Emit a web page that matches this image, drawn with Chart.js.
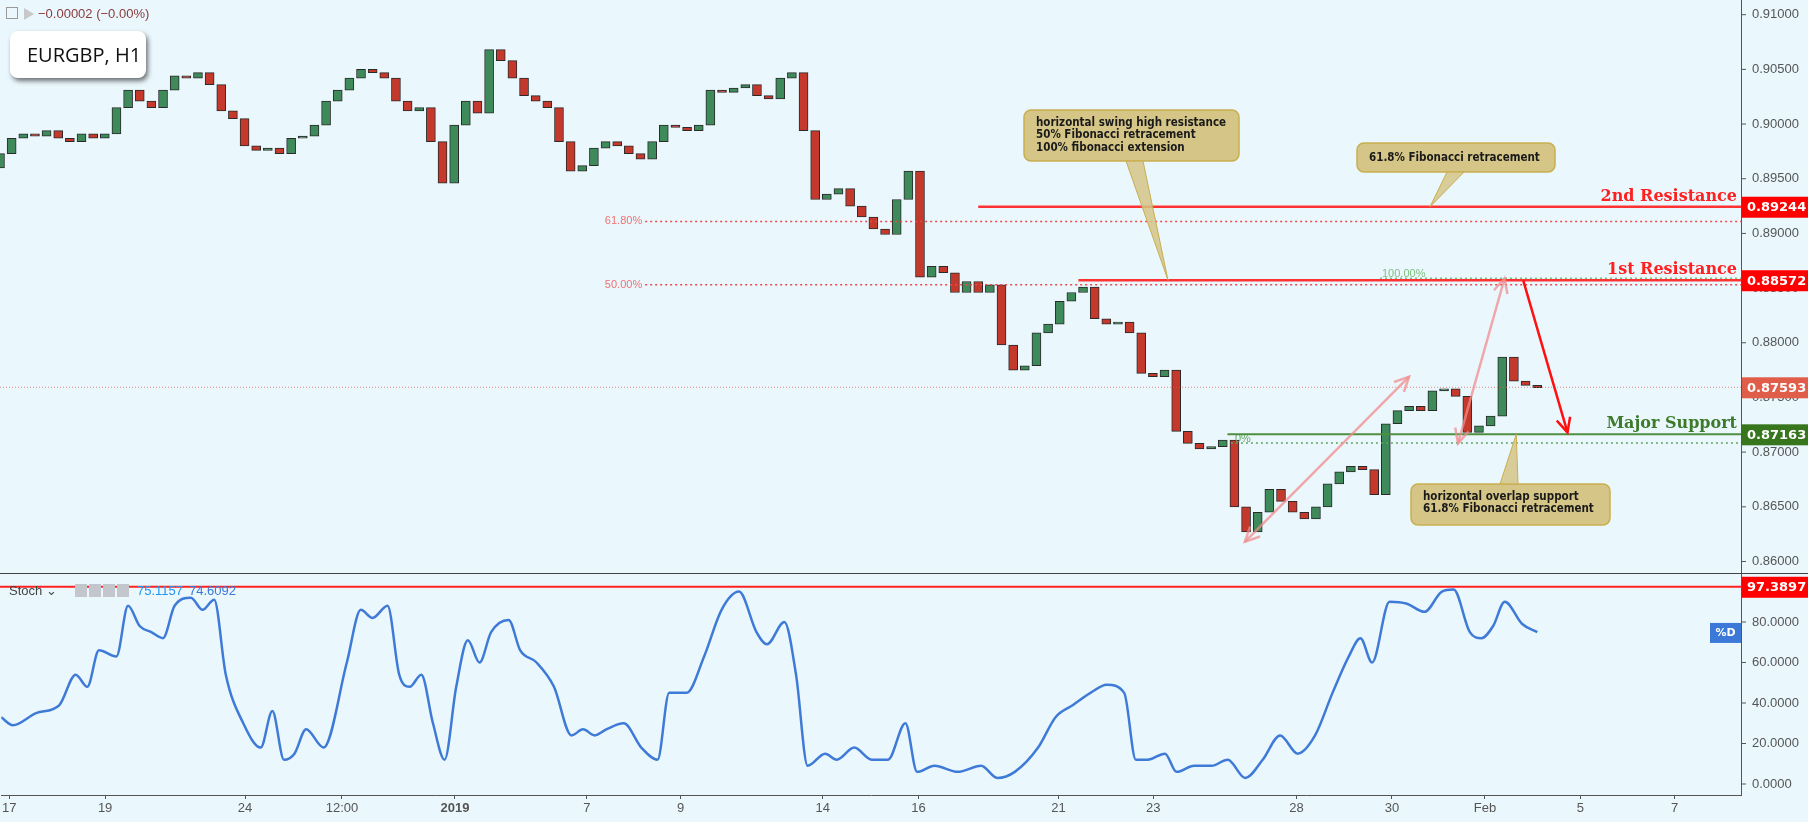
<!DOCTYPE html>
<html><head><meta charset="utf-8">
<script src="https://cdn.jsdelivr.net/npm/chart.js@4.4.1/dist/chart.umd.min.js"></script>
<style>
html,body{margin:0;padding:0;background:#eaf8fe;overflow:hidden}
#wrap{position:relative;width:1808px;height:822px;background:#eaf8fe}
canvas{position:absolute;left:0}
#top{top:0}#bot{top:574px}
.hdr{position:absolute;left:6px;top:6px;font:13px "Liberation Sans",Arial,sans-serif;color:#8b3a3a;z-index:3}
.hdr span.ic{display:inline-block;width:10px;height:10px;border:1px solid #999;margin-right:6px;vertical-align:-1px}
.hdr span.fl{display:inline-block;width:0;height:0;border-left:10px solid #c8c8c8;border-top:6px solid transparent;border-bottom:6px solid transparent;margin-right:4px;vertical-align:-2px}
.sym{position:absolute;left:10px;top:31px;width:136px;height:47px;background:#fff;border-radius:8px;box-shadow:2px 3px 5px rgba(0,0,0,.55);font:20px "Open Sans","Liberation Sans",sans-serif;color:#111;line-height:47px;text-indent:17px;z-index:3}
.st{position:absolute;left:9px;top:583px;font:13px "Liberation Sans",Arial,sans-serif;color:#444;z-index:3}
.st i{display:inline-block;width:12px;height:13px;background:#c3c6cc;margin-right:2px;vertical-align:-2px}
.st b{font-weight:normal;color:#2196f3;margin-left:6px}
</style></head>
<body><div id="wrap">
<div class="hdr"><span class="ic"></span><span class="fl"></span>−0.00002 (−0.00%)</div>
<div class="sym">EURGBP, H1</div>
<div class="st">Stoch ⌄ &nbsp;&nbsp;&nbsp;&nbsp;<i></i><i></i><i></i><i></i><b>75.1157</b><b style="color:#3c78d8">74.6092</b></div>
<canvas id="top" width="1808" height="574"></canvas>
<canvas id="bot" width="1808" height="248"></canvas>
</div>
<script>
// ---- data ----
const candleClose = [0.8973,0.8987,0.8991,0.8989,0.8994,0.8987,0.8984,0.8991,0.8987,0.8991,
0.9015,0.9031,0.9021,0.9015,0.9031,0.9044,0.9042,0.9047,0.9036,0.9012,
0.9005,0.8980,0.8976,0.8978,0.8973,0.8987,0.8989,0.8999,0.9021,0.9031,
0.9042,0.9050,0.9047,0.9042,0.9021,0.9012,0.9015,0.8984,0.8946,0.8999,
0.9021,0.9010,0.9068,0.9058,0.9042,0.9026,0.9021,0.9015,0.8984,0.8957,
0.8962,0.8978,0.8984,0.8980,0.8973,0.8968,0.8984,0.8999,0.8997,0.8994,
0.8999,0.9031,0.9029,0.9033,0.9036,0.9026,0.9023,0.9042,0.9047,0.8994,
0.8931,0.8936,0.8941,0.8925,0.8915,0.8904,0.8899,0.8931,0.8957,0.8860,
0.8870,0.8864,0.8846,0.8856,0.8846,0.8853,0.8798,0.8775,0.8779,0.8809,
0.8817,0.8838,0.8846,0.8851,0.8822,0.8817,0.8819,0.8809,0.8772,0.8769,
0.8775,0.8719,0.8708,0.8703,0.8705,0.8711,0.8650,0.8627,0.8645,0.8666,
0.8655,0.8645,0.8639,0.8650,0.8671,0.8682,0.8687,0.8684,0.8661,0.8726,
0.8738,0.8742,0.8738,0.8756,0.8758,0.8751,0.8718,0.8724,0.8733,0.8787,
0.8765,0.8761,0.8759];
const firstOpen = 0.8960;
const stochX = [0,1.0,3.0,5.0,6.4,7.4,8.4,9.9,10.9,11.9,12.9,13.9,14.9,16.3,17.3,18.3,19.3,20.8,22.3,23.3,24.3,25.2,26.2,27.7,29.7,30.9,31.9,33.2,34.2,35.1,36.1,37.1,38.1,39.1,40.1,41.1,42.1,43.6,44.6,46.0,47.5,49.0,50.0,51.0,52.0,53.5,55.0,56.4,57.4,58.9,60.4,61.9,63.4,64.9,65.8,67.3,68.3,69.3,70.8,71.8,73.3,74.8,76.2,77.7,78.7,80.2,82.2,84.2,85.6,87.1,89.1,90.6,92.1,93.6,95.0,96.5,97.5,98.5,100.0,101.0,102.5,104.0,105.4,106.9,108.4,109.9,111.4,112.9,114.4,115.8,116.8,117.8,119.3,120.8,122.3,123.8,124.8,126.2,127.2,128.2,129.2,130.7,132.0];
const stochD = [33,29,35,39,54,48,66,63,88,78,75,72,88,92,86,91,54,30,18,36,12,15,27,18,60,86,82,88,54,48,54,30,12,48,71,60,75,81,66,60,48,24,27,24,27,30,18,12,45,45,63,86,95,75,69,80,54,9,15,12,18,12,12,30,6,9,6,9,3,6,18,33,39,45,49,45,12,12,15,6,9,9,12,3,12,24,15,24,45,63,72,60,90,89,85,95,96,75,72,78,90,79,75];
const xTickPos = [0.69,8.93,20.95,29.28,38.99,50.32,58.39,70.59,78.83,90.86,99.0,111.3,119.5,127.5,135.7,143.8];
const xTickLabels = ['17','19','24','12:00','2019','7','9','14','16','21','23','28','30','Feb','5','7'];
const priceTicks = [0.86,0.865,0.87,0.875,0.88,0.885,0.89,0.895,0.90,0.905,0.91];
const stochTicks = [0,20,40,60,80];
const levels = {res2:0.89244, res1:0.88572, last:0.87593, sup:0.87163, fib618:0.8911, fib50:0.8853, ext100:0.8859, ext0:0.87083};
const stochMax = 97.3897;

const X_MIN=0, X_MAX=149.5;
const bodies = candleClose.map((c,i)=>({x:i, y:[i?candleClose[i-1]:firstOpen, c]}));
const FONT='"Liberation Sans",Arial,sans-serif';

function axisBox(ctx, y, txt, bg){
  ctx.fillStyle=bg; ctx.fillRect(1742, y-10, 66, 21);
  ctx.fillStyle='#fff'; ctx.font='bold 13px "DejaVu Sans",sans-serif'; ctx.textAlign='left'; ctx.textBaseline='middle';
  ctx.fillText(txt, 1747, y+1);
}
function hline(ctx, x1, x2, y, color, w, dash){
  ctx.save(); ctx.strokeStyle=color; ctx.lineWidth=w; ctx.setLineDash(dash||[]);
  ctx.beginPath(); ctx.moveTo(x1,y); ctx.lineTo(x2,y); ctx.stroke(); ctx.restore();
}
function arrow(ctx, x1,y1,x2,y2,color,w,both){
  ctx.save(); ctx.strokeStyle=color; ctx.lineWidth=w;
  ctx.beginPath(); ctx.moveTo(x1,y1); ctx.lineTo(x2,y2); ctx.stroke();
  const head=(ax,ay,bx,by)=>{const a=Math.atan2(by-ay,bx-ax);const L=16;
    ctx.beginPath(); ctx.moveTo(bx-L*Math.cos(a-0.45),by-L*Math.sin(a-0.45)); ctx.lineTo(bx,by);
    ctx.lineTo(bx-L*Math.cos(a+0.45),by-L*Math.sin(a+0.45)); ctx.stroke();};
  head(x1,y1,x2,y2); if(both) head(x2,y2,x1,y1);
  ctx.restore();
}
function callout(ctx, bx,by,bw,bh, p1x,p2x,tipx,tipy, lines, up){
  ctx.save();
  ctx.fillStyle='#d5c687'; ctx.strokeStyle='#c9ae4f'; ctx.lineWidth=1.5;
  ctx.beginPath(); ctx.roundRect(bx,by,bw,bh,7); ctx.fill(); ctx.stroke();
  const baseY = up? by : by+bh;
  ctx.beginPath(); ctx.moveTo(p1x,baseY); ctx.lineTo(tipx,tipy); ctx.lineTo(p2x,baseY); ctx.closePath();
  ctx.fillStyle='rgba(213,198,135,0.85)'; ctx.fill(); ctx.strokeStyle='#c9ae4f'; ctx.lineWidth=1; ctx.stroke();
  ctx.fillStyle='#1a1a1a'; ctx.font='bold 11.5px "DejaVu Sans Condensed","DejaVu Sans",sans-serif';
  ctx.textAlign='left'; ctx.textBaseline='top';
  lines.forEach((t,i)=>ctx.fillText(t, bx+12, by+ (lines.length>1?7:9) + i*12.5));
  ctx.restore();
}

const topPlugin = {
  id:'topAnn',
  beforeDraw(chart){const c=chart.ctx; c.save(); c.fillStyle='#eaf8fe'; c.fillRect(0,0,1808,574); c.restore();},
  afterDatasetsDraw(chart){
    const c=chart.ctx, xs=chart.scales.x, ys=chart.scales.y;
    const X=v=>xs.getPixelForValue(v), Y=v=>ys.getPixelForValue(v);
    const R=1741;
    hline(c,0,R,Y(levels.last),'rgba(224,93,74,0.7)',1,[1,2]);
    hline(c,X(55.4),R,Y(levels.fib618),'#f04848',1.5,[2,3]);
    hline(c,X(55.4),R,Y(levels.fib50),'#f04848',1.5,[2,3]);
    c.font='11px "Liberation Sans",Arial,sans-serif'; c.fillStyle='#f07070'; c.textAlign='right'; c.textBaseline='middle';
    c.fillText('61.80%',X(55.4)-3,Y(levels.fib618)); c.fillText('50.00%',X(55.4)-3,Y(levels.fib50));
    hline(c,X(118.5),R,Y(levels.ext100),'#7fbf7f',1.5,[2,3]);
    hline(c,X(105.7),R,Y(levels.ext0),'#5fa35f',1.5,[2,3]);
    c.fillStyle='#7fbf7f'; c.textAlign='left'; c.fillText('100.00%',X(118.5)+2,Y(levels.ext100)-4);
    c.fillStyle='#6aa86a'; c.fillText('0%',X(105.7)+4,Y(levels.ext0)-4);
    hline(c,X(84.0),R,Y(levels.res2),'#ff3333',2.5);
    hline(c,X(92.6),R,Y(levels.res1),'#ff3333',2.5);
    hline(c,X(105.4),R,Y(levels.sup),'#4f8f3f',2);
    c.font='bold 16px "DejaVu Serif",serif'; c.textAlign='right'; c.textBaseline='bottom';
    c.fillStyle='#ff2020'; c.fillText('2nd Resistance',1737,Y(levels.res2)-2); c.fillText('1st Resistance',1737,Y(levels.res1)-2);
    c.fillStyle='#3d7a2a'; c.fillText('Major Support',1737,Y(levels.sup)-2);
    arrow(c,X(106.9),Y(0.8618),X(121.0),Y(0.8769),'rgba(240,140,140,0.75)',2.5,true);
    arrow(c,X(129.2),Y(0.8859),X(125.2),Y(0.8708),'rgba(240,140,140,0.75)',2.5,true);
    arrow(c,X(130.8),Y(0.8857),X(134.6),Y(0.8718),'#ff1010',2.5,false);
    callout(c,1024,110,215,51,1126,1143,X(100.3),Y(levels.res1),['horizontal swing high resistance','50% Fibonacci retracement','100% fibonacci extension'],false);
    callout(c,1357,143,198,29,1447,1464,X(122.8),Y(levels.res2),['61.8% Fibonacci retracement'],false);
    callout(c,1411,484,199,41,1500,1518,X(130.2),Y(levels.sup),['horizontal overlap support','61.8% Fibonacci retracement'],true);
    c.save(); c.fillStyle='#eaf8fe'; c.fillRect(1742,0,66,574);
    c.strokeStyle='#555'; c.lineWidth=1; c.beginPath(); c.moveTo(1741.5,0); c.lineTo(1741.5,574); c.stroke();
    c.font='13px '+FONT; c.fillStyle='#555'; c.textAlign='left'; c.textBaseline='middle';
    priceTicks.forEach(v=>{const y=Y(v); c.beginPath(); c.moveTo(1741,y); c.lineTo(1746,y); c.stroke(); c.fillText(v.toFixed(5),1752,y);});
    axisBox(c,Y(levels.res2),levels.res2.toFixed(5),'#ff0000');
    axisBox(c,Y(levels.res1),levels.res1.toFixed(5),'#ff0000');
    axisBox(c,Y(levels.last),levels.last.toFixed(5),'#e05d4a');
    axisBox(c,Y(levels.sup),levels.sup.toFixed(5),'#38761d');
    c.strokeStyle='#444'; c.beginPath(); c.moveTo(0,573.5); c.lineTo(1808,573.5); c.stroke();
    c.restore();
  }
};

new Chart(document.getElementById('top'),{
  type:'bar',
  data:{datasets:[{data:bodies,
    backgroundColor:ctx=>{const d=ctx.raw; return d && d.y[1]>=d.y[0]?'#3e8a5a':'#c4392b';},
    borderColor:'#2a2a2a',borderWidth:1,barThickness:9,grouped:false,borderSkipped:false}]},
  options:{responsive:false,animation:false,devicePixelRatio:1,
    layout:{padding:0},
    plugins:{legend:{display:false},tooltip:{enabled:false}},
    scales:{
      x:{type:'linear',min:X_MIN,max:X_MAX,display:false,offset:false},
      y:{position:'right',min:0.858857,max:0.911344,grid:{display:false},ticks:{display:false},border:{display:false},
        afterFit:s=>{s.width=67;}}
    }},
  plugins:[topPlugin]
});

const botPlugin = {
  id:'botAnn',
  beforeDraw(chart){const c=chart.ctx; c.save(); c.fillStyle='#eaf8fe'; c.fillRect(0,0,1808,248); c.restore();},
  afterDatasetsDraw(chart){
    const c=chart.ctx, ys=chart.scales.y; const Y=v=>ys.getPixelForValue(v);
    hline(c,0,1741,Y(stochMax),'#ff2020',2);
    c.save();
    c.fillStyle='#eaf8fe'; c.fillRect(1742,0,66,chart.chartArea.bottom);
    c.strokeStyle='#555'; c.lineWidth=1; c.beginPath(); c.moveTo(1741.5,0); c.lineTo(1741.5,chart.chartArea.bottom); c.stroke();
    c.font='13px '+FONT; c.fillStyle='#555'; c.textAlign='left'; c.textBaseline='middle';
    stochTicks.forEach(v=>{const y=Y(v); c.beginPath(); c.moveTo(1741,y); c.lineTo(1746,y); c.stroke(); c.fillText(v.toFixed(4),1752,y);});
    axisBox(c,Y(stochMax),stochMax.toFixed(4),'#ff0000');
    c.fillStyle='#3c78d8'; c.fillRect(1710,Y(74.6)-10,31,20);
    c.fillStyle='#fff'; c.font='bold 11px "DejaVu Sans",sans-serif'; c.textAlign='center'; c.fillText('%D',1725.5,Y(74.6));
    c.restore();
  }
};

new Chart(document.getElementById('bot'),{
  type:'line',
  data:{datasets:[{data:stochX.map((x,i)=>({x,y:stochD[i]})),borderColor:'#3f7ad6',borderWidth:2.5,pointRadius:0,cubicInterpolationMode:'monotone'}]},
  options:{responsive:false,animation:false,devicePixelRatio:1,
    layout:{padding:0},
    plugins:{legend:{display:false},tooltip:{enabled:false}},
    scales:{
      x:{type:'linear',min:X_MIN,max:X_MAX,
        afterBuildTicks:s=>{s.ticks=xTickPos.map(v=>({value:v}));},
        afterFit:s=>{s.height=27;},
        grid:{display:true,drawOnChartArea:false,tickLength:4,color:'#555'},
        border:{display:true,color:'#555'},
        ticks:{autoSkip:false,maxRotation:0,padding:2,color:'#555',
          font:ctx=>({family:FONT,size:13,weight:(ctx.tick&&ctx.tick.value===38.99)?'bold':'normal'}),
          callback:(v)=>{const i=xTickPos.indexOf(v);return i>=0?xTickLabels[i]:'';}}},
      y:{position:'right',min:-5.43,max:103.7,grid:{display:false},ticks:{display:false},border:{display:false},
        afterFit:s=>{s.width=67;}}
    }},
  plugins:[botPlugin]
});
</script>
</body></html>
